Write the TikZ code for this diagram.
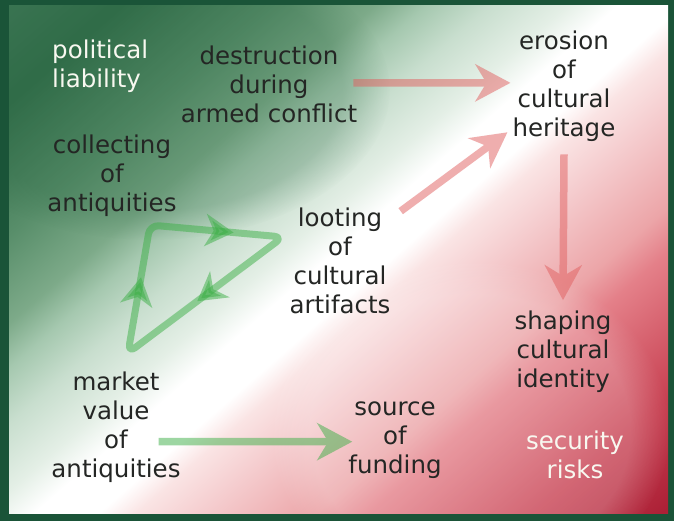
\documentclass[tikz,border=0pt]{standalone}
\usepackage{fontspec}
\setmainfont{DejaVu Sans}
\usetikzlibrary{arrows.meta,decorations.markings,fadings,calc}
\definecolor{frameG}{RGB}{26,84,56}
\definecolor{cA}{RGB}{60,118,84}
\definecolor{cB}{RGB}{48,108,72}
\definecolor{cC}{RGB}{88,142,106}
\definecolor{cD}{RGB}{125,170,137}
\definecolor{cE}{RGB}{165,200,175}
\definecolor{cF}{RGB}{200,222,206}
\definecolor{cG}{RGB}{228,239,230}
\definecolor{cH}{RGB}{250,228,228}
\definecolor{cI}{RGB}{245,205,207}
\definecolor{cJ}{RGB}{236,165,168}
\definecolor{cK}{RGB}{228,128,137}
\definecolor{cL}{RGB}{200,65,82}
\definecolor{cM}{RGB}{172,32,54}
\definecolor{txt}{RGB}{36,38,36}
\definecolor{wtxt}{RGB}{248,248,240}
\definecolor{pinkA}{RGB}{225,95,95}
\definecolor{greenA}{RGB}{60,175,70}
\pgfdeclarehorizontalshading{bggrad}{100bp}{color(0bp)=(cA); color(26bp)=(cA); color(30bp)=(cB); color(36bp)=(cC); color(40bp)=(cD); color(42bp)=(cE); color(44.5bp)=(cF); color(47.5bp)=(cG); color(49.5bp)=(white); color(52bp)=(white); color(53.5bp)=(cH); color(56bp)=(cI); color(60.5bp)=(cJ); color(62.5bp)=(cK); color(69bp)=(cL); color(74bp)=(cM); color(100bp)=(cM)}
\tikzset{loophead/.tip={Stealth[length=28pt,width=32pt,inset=8pt]}}
\begin{document}
\begin{tikzpicture}[x=1pt,y=-1pt,
  lbl/.style={font=\fontsize{24.5}{29}\selectfont, text=txt, align=center, inner sep=0pt},
  wlbl/.style={lbl, text=wtxt},
  pinkarrow/.style={line width=7.5pt, draw=pinkA, -{Stealth[length=35pt,width=37pt,inset=11pt]}},
  greenarrow/.style={line width=7.5pt, draw=greenA, -{Stealth[length=35pt,width=37pt,inset=11pt]}}]
\useasboundingbox (0,0) rectangle (674,521);
\fill[frameG] (0,0) rectangle (674,521);
\begin{scope}
  \clip (9,6) rectangle (668,513);
  \shade[shading=bggrad, transform canvas={rotate around={-49:(338.5,259.5)}}]
    (-81.5,-160.5) rectangle (758.5,679.5);
  \fill[cB, opacity=0.25, path fading=circle with fuzzy edge 20 percent]
    (150,90) ellipse [x radius=240, y radius=150];
  \fill[white, opacity=0.2, path fading=circle with fuzzy edge 20 percent]
    (470,430) ellipse [x radius=200, y radius=170];
\end{scope}

\node[wlbl, anchor=base west, align=left] (polit) at (52,88) {political\\liability};
\node[lbl, anchor=base] (destr) at (269,123) {destruction\\during\\armed conflict};
\node[lbl, anchor=base] (erosion) at (564,137) {erosion\\of\\cultural\\heritage};
\node[lbl, anchor=base] (collect) at (112,212) {collecting\\of\\antiquities};
\node[lbl, anchor=base] (loot) at (340,313) {looting\\of\\cultural\\artifacts};
\node[lbl, anchor=base] (shaping) at (563,387) {shaping\\cultural\\identity};
\node[lbl, anchor=base] (market) at (116,477) {market\\value\\of\\antiquities};
\node[lbl, anchor=base] (source) at (395,473) {source\\of\\funding};
\node[wlbl, anchor=base] (secur) at (575,478) {security\\risks};

\begin{scope}[transparency group, opacity=0.5]
  \draw[pinkarrow] ($(destr.east)+(-4,-2)$) -- ($(erosion.west |- destr.east)+(-2,-2)$);
  \draw[pinkarrow] ($(loot.north east)+(10,4)$) -- ($(erosion.south west)+(-5,-10)$);
  \draw[pinkarrow] ($(erosion.south)+(0,12)$) -- ($(shaping.north)+(0,-10)$);
\end{scope}
\begin{scope}[transparency group, opacity=0.5]
  \draw[greenarrow] ($(market.east |- source.west)+(-22,2)$) -- ($(source.west)+(4,2)$);
\end{scope}

\coordinate (L1) at (128,353);
\coordinate (L2) at (150,225);
\coordinate (L3) at (283,237);
\draw[greenA, line width=7pt, opacity=0.5, rounded corners=9pt, line join=round,
  postaction={decorate}, decoration={markings,
    mark=at position 0.155 with {\arrow{loophead}},
    mark=at position 0.46 with {\arrow{loophead}},
    mark=at position 0.80 with {\arrow{loophead}}}]
  (L1) -- (L2) -- (L3) -- cycle;
\end{tikzpicture}
\end{document}
